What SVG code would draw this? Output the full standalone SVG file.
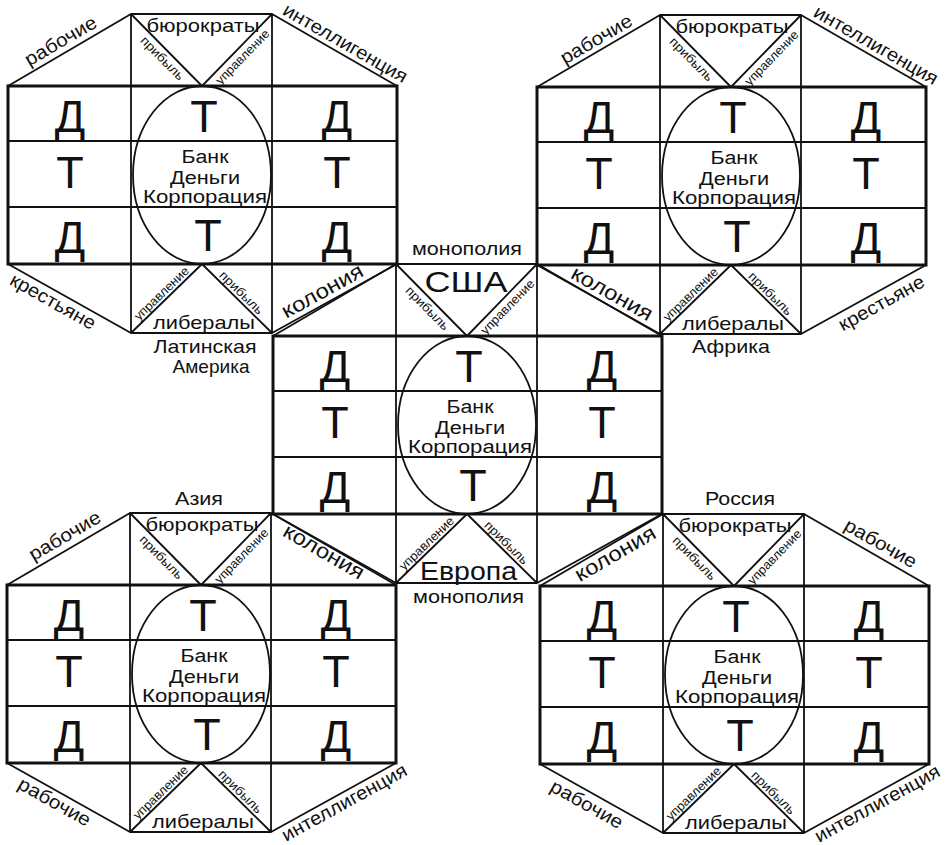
<svg xmlns="http://www.w3.org/2000/svg" width="949" height="845" viewBox="0 0 949 845">
<style>
.ln{fill:none;stroke:#111;stroke-width:1.8;stroke-linecap:round;stroke-linejoin:round}
.bd{fill:none;stroke:#111;stroke-width:3}
text{font-family:"Liberation Sans",Arial,sans-serif;fill:#111;text-anchor:middle}
.big{font-size:45px}
.bank{font-size:18px}
.sm{font-size:12.5px}
.lab{font-size:19px}
.kol{font-size:21px}
.geo{font-size:18.5px}
.usa{font-size:30px}
.eu{font-size:25px}
</style>
<defs>
<g id="frame">
<rect class="bd" x="0" y="0" width="389" height="178"/>
<path class="ln" d="M0,55H389M0,121H389M123,-72V247M264,-72V247M123,-72H264M123,247H264M0,0L123,-72M264,-72L389,0M0,178L123,247M264,247L389,178M123,-72L194,0L264,-72M123,247L194,178L264,247"/>
<ellipse class="ln" cx="194" cy="89" rx="69" ry="89"/>
</g>
<g id="core">
<text class="big" x="62" y="46">Д</text>
<text class="big" x="196" y="46">Т</text>
<text class="big" x="329" y="46">Д</text>
<text class="big" x="62" y="102">Т</text>
<text class="big" x="329" y="102">Т</text>
<text class="big" x="62" y="167">Д</text>
<text class="big" x="200" y="165">Т</text>
<text class="big" x="329" y="167">Д</text>
<text class="bank" x="197" y="77" textLength="47" lengthAdjust="spacingAndGlyphs">Банк</text>
<text class="bank" x="197" y="98" textLength="70" lengthAdjust="spacingAndGlyphs">Деньги</text>
<text class="bank" x="197" y="117" textLength="124" lengthAdjust="spacingAndGlyphs">Корпорация</text>
<text class="sm" transform="translate(158.5,-36) rotate(45.4)" x="3" y="13" textLength="56" lengthAdjust="spacingAndGlyphs">прибыль</text>
<text class="sm" transform="translate(229,-36) rotate(-45.8)" x="-1" y="13" textLength="71" lengthAdjust="spacingAndGlyphs">управление</text>
<text class="sm" transform="translate(158.5,212.5) rotate(-44.2)" x="0" y="-3" textLength="71" lengthAdjust="spacingAndGlyphs">управление</text>
<text class="sm" transform="translate(229,212.5) rotate(44.6)" x="-1" y="-3" textLength="56" lengthAdjust="spacingAndGlyphs">прибыль</text>
</g>
<g id="topbot">
<text class="lab" x="195" y="-54" textLength="113" lengthAdjust="spacingAndGlyphs">бюрократы</text>
<text class="lab" x="196" y="243" textLength="102" lengthAdjust="spacingAndGlyphs">либералы</text>
</g>
</defs>

<g id="block-top-left" transform="translate(8,86)">
<use href="#frame"/>
<use href="#core"/>
<use href="#topbot"/>
<text class="lab" transform="translate(61.5,-36) rotate(-30.3)" x="-3" y="-6" textLength="80" lengthAdjust="spacingAndGlyphs">рабочие</text>
<text class="lab" transform="translate(326.5,-36) rotate(29.9)" x="6" y="-5" textLength="140" lengthAdjust="spacingAndGlyphs">интеллигенция</text>
<text class="lab" transform="translate(61.5,212.5) rotate(29.3)" x="-13" y="17" textLength="95" lengthAdjust="spacingAndGlyphs">крестьяне</text>
<text class="kol" transform="translate(326.5,212.5) rotate(-28.9)" x="-7" y="-5.5" textLength="90" lengthAdjust="spacingAndGlyphs">колония</text>
</g>

<g id="block-top-right" transform="translate(537,87)">
<use href="#frame"/>
<use href="#core"/>
<use href="#topbot"/>
<text class="lab" transform="translate(61.5,-36) rotate(-30.3)" x="4" y="-5" textLength="80" lengthAdjust="spacingAndGlyphs">рабочие</text>
<text class="lab" transform="translate(326.5,-36) rotate(29.9)" x="8" y="-5" textLength="140" lengthAdjust="spacingAndGlyphs">интеллигенция</text>
<text class="kol" transform="translate(61.5,212.5) rotate(29.3)" x="9" y="-5" textLength="90" lengthAdjust="spacingAndGlyphs">колония</text>
<text class="lab" transform="translate(326.5,212.5) rotate(-28.9)" x="14" y="18" textLength="95" lengthAdjust="spacingAndGlyphs">крестьяне</text>
</g>

<g id="block-center" transform="translate(273,336)">
<use href="#frame"/>
<use href="#core"/>
<text class="lab" x="194" y="-81" textLength="110" lengthAdjust="spacingAndGlyphs">монополия</text>
<text class="usa" x="193" y="-44" textLength="83" lengthAdjust="spacingAndGlyphs">США</text>
<text class="eu" x="195.5" y="244" textLength="97" lengthAdjust="spacingAndGlyphs">Европа</text>
<text class="lab" x="195.5" y="267" textLength="111" lengthAdjust="spacingAndGlyphs">монополия</text>
</g>

<g id="block-bottom-left" transform="translate(7,585)">
<use href="#frame"/>
<use href="#core"/>
<use href="#topbot"/>
<text class="lab" transform="translate(61.5,-36) rotate(-30.3)" x="3.5" y="-7" textLength="80" lengthAdjust="spacingAndGlyphs">рабочие</text>
<text class="kol" transform="translate(326.5,-36) rotate(29.9)" x="-7" y="14" textLength="90" lengthAdjust="spacingAndGlyphs">колония</text>
<text class="lab" transform="translate(61.5,212.5) rotate(29.3)" x="-10" y="17" textLength="80" lengthAdjust="spacingAndGlyphs">рабочие</text>
<text class="lab" transform="translate(326.5,212.5) rotate(-28.9)" x="7" y="16" textLength="140" lengthAdjust="spacingAndGlyphs">интеллигенция</text>
</g>

<g id="block-bottom-right" transform="translate(540,586)">
<use href="#frame"/>
<use href="#core"/>
<use href="#topbot"/>
<text class="kol" transform="translate(61.5,-36) rotate(-30.3)" x="10" y="17" textLength="90" lengthAdjust="spacingAndGlyphs">колония</text>
<text class="lab" transform="translate(326.5,-36) rotate(29.9)" x="9" y="-6.5" textLength="80" lengthAdjust="spacingAndGlyphs">рабочие</text>
<text class="lab" transform="translate(61.5,212.5) rotate(29.3)" x="-10" y="18.5" textLength="80" lengthAdjust="spacingAndGlyphs">рабочие</text>
<text class="lab" transform="translate(326.5,212.5) rotate(-28.9)" x="7" y="16" textLength="140" lengthAdjust="spacingAndGlyphs">интеллигенция</text>
</g>

<g id="regions">
<text class="geo" x="205" y="353" textLength="103" lengthAdjust="spacingAndGlyphs">Латинская</text>
<text class="geo" x="211" y="373" textLength="77" lengthAdjust="spacingAndGlyphs">Америка</text>
<text class="geo" x="731" y="353" textLength="78" lengthAdjust="spacingAndGlyphs">Африка</text>
<text class="geo" x="199" y="505" textLength="48" lengthAdjust="spacingAndGlyphs">Азия</text>
<text class="geo" x="740" y="505" textLength="70" lengthAdjust="spacingAndGlyphs">Россия</text>
</g>
</svg>
